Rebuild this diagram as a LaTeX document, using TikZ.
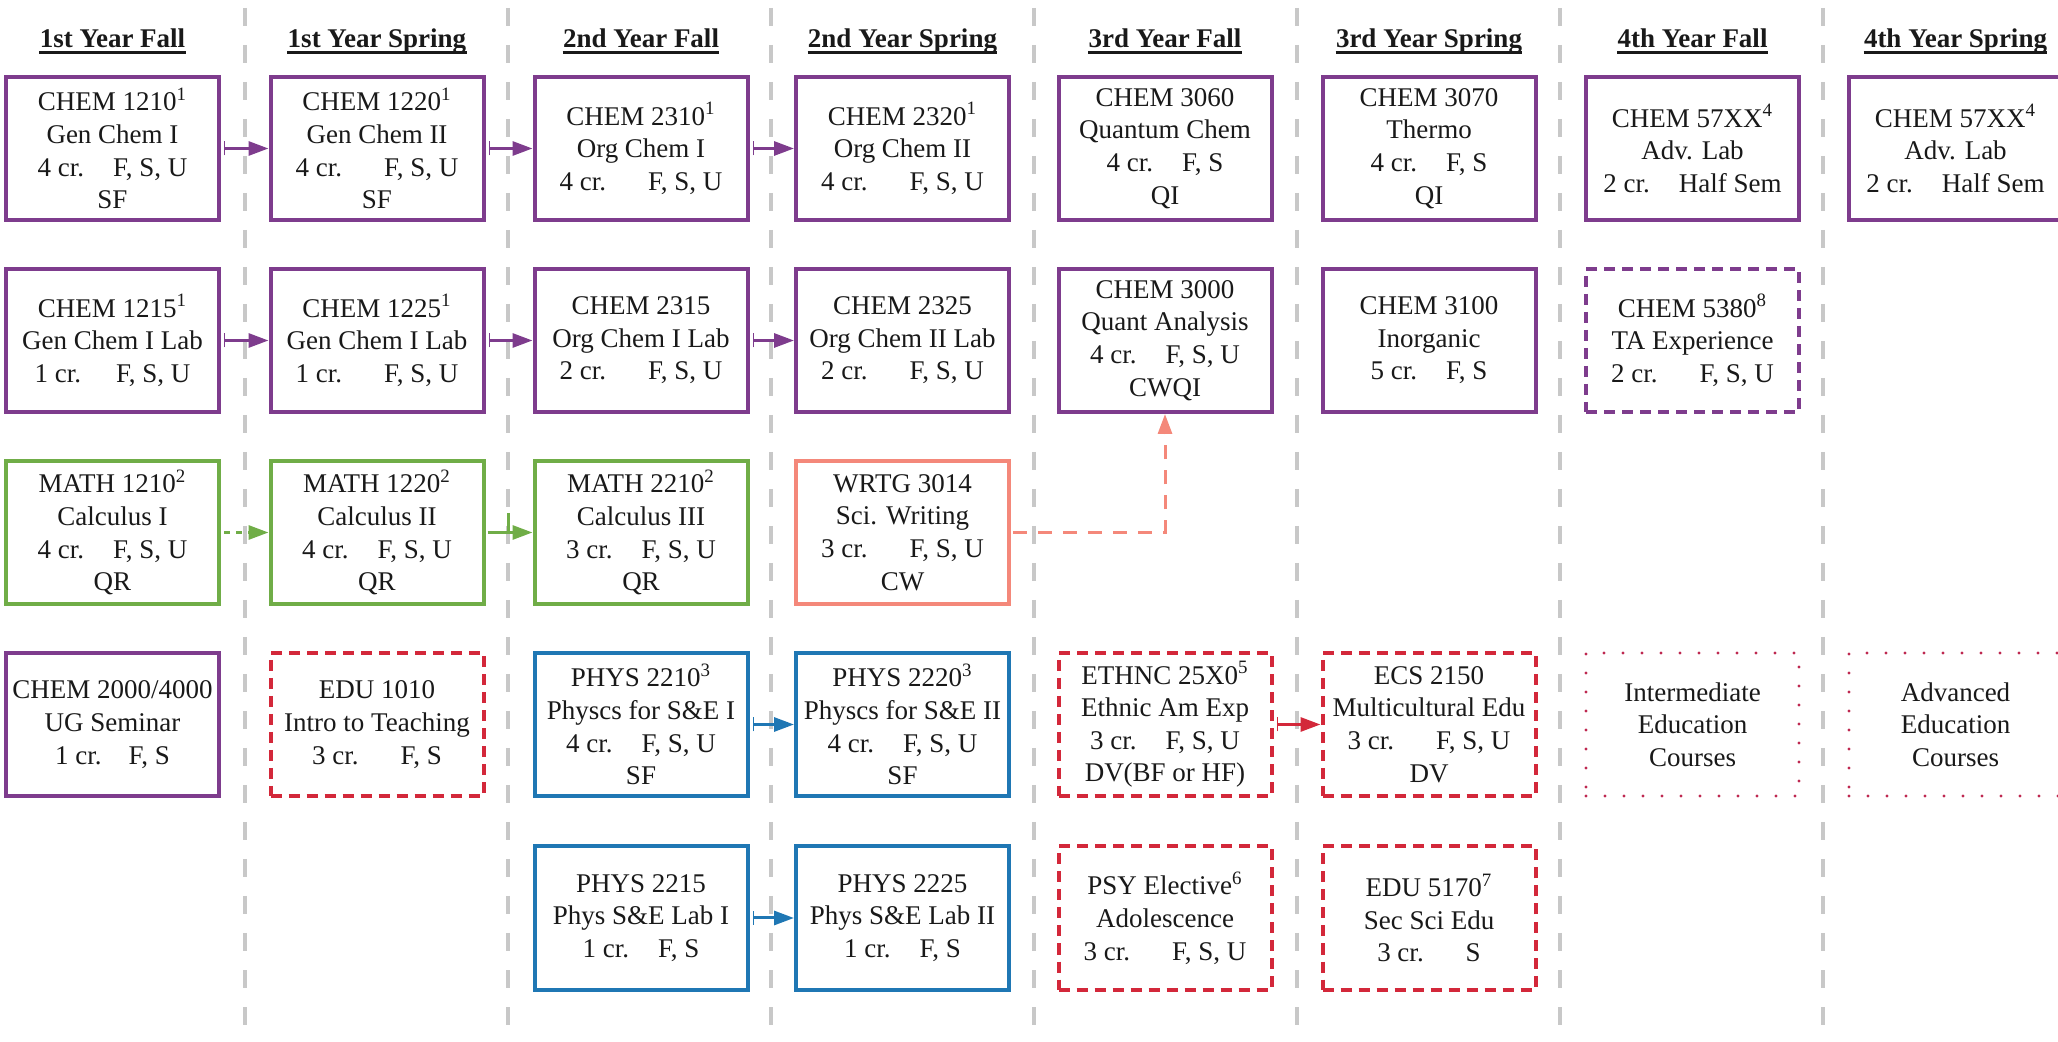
\documentclass[tikz,border=0pt]{standalone}
\usepackage{fontspec}
\setmainfont{Liberation Serif}
\usetikzlibrary{arrows.meta}
\definecolor{cpur}{RGB}{126,60,141}
\definecolor{cgrn}{RGB}{112,173,71}
\definecolor{csal}{RGB}{244,136,122}
\definecolor{cblu}{RGB}{31,119,180}
\definecolor{cred}{RGB}{211,40,58}
\definecolor{cdot}{RGB}{190,40,80}
\definecolor{csep}{RGB}{200,200,200}
\newcommand\gapA{\hspace{14.5pt}}
\newcommand\gapB{\hspace{21pt}}
\begin{document}
\begin{tikzpicture}[x=0.5pt,y=-0.5pt,
  font=\fontsize{13.5}{16.3}\selectfont,
  course/.style={draw, line width=2pt, minimum width=106.5pt, minimum height=71.5pt,
    inner sep=0pt, align=center, fill=white, text=black!90},
  pur/.style={course, draw=cpur},
  purd/.style={course, draw=cpur, dash pattern=on 5.5pt off 3.5pt},
  grn/.style={course, draw=cgrn},
  sal/.style={course, draw=csal},
  blu/.style={course, draw=cblu},
  redd/.style={course, draw=cred, dash pattern=on 5.5pt off 3.5pt},
  dotb/.style={course, draw=cdot, line width=1.7pt, dash pattern=on 0pt off 9.5pt, line cap=round},
  hdr/.style={anchor=base, inner sep=0pt, font=\fontsize{13.5}{16.3}\selectfont\bfseries, text=black!90},
  hline/.style={line width=1.2pt, black!90},
  sepline/.style={draw=csep, line width=2pt, dash pattern=on 9pt off 9.5pt},
  conn/.style={line width=1.5pt, {Bar[width=7pt,line width=0.45pt]}-{Triangle[length=10pt,width=7pt]}},
  plainconn/.style={line width=1.5pt, -{Triangle[length=10pt,width=7pt]}},
]
\useasboundingbox (0,0) rectangle (2058,1042);
\clip (0,0) rectangle (2058,1042);

% separators
\foreach \sx in {245,508,771,1034,1297,1560,1823}
  \draw[sepline] (\sx,8) -- (\sx,1042);

% headers
\foreach \hx/\htxt/\hn in {112.5/1st Year Fall/h1, 377/1st Year Spring/h2, 641/2nd Year Fall/h3,
    902.5/2nd Year Spring/h4, 1165/3rd Year Fall/h5, 1429/3rd Year Spring/h6,
    1692.5/4th Year Fall/h7, 1955.5/4th Year Spring/h8}{
  \node[hdr] (\hn) at (\hx,48) {\htxt};
  \draw[hline] ([yshift=-2.2pt]\hn.base west) -- ([yshift=-2.2pt]\hn.base east);
}

% row 1
\node[pur] (r1c1) at (112.5,148.5) {CHEM 1210\textsuperscript{1}\\Gen Chem I\\4 cr.\gapA F, S, U\\SF};
\node[pur] (r1c2) at (377,148.5) {CHEM 1220\textsuperscript{1}\\Gen Chem II\\4 cr.\gapB F, S, U\\SF};
\node[pur] (r1c3) at (641,148.5) {CHEM 2310\textsuperscript{1}\\Org Chem I\\4 cr.\gapB F, S, U};
\node[pur] (r1c4) at (902.5,148.5) {CHEM 2320\textsuperscript{1}\\Org Chem II\\4 cr.\gapB F, S, U};
\node[pur] (r1c5) at (1165,148.5) {CHEM 3060\\Quantum Chem\\4 cr.\gapA F, S\\QI};
\node[pur] (r1c6) at (1429,148.5) {CHEM 3070\\Thermo\\4 cr.\gapA F, S\\QI};
\node[pur] (r1c7) at (1692.5,148.5) {CHEM 57XX\textsuperscript{4}\\Adv. Lab\\2 cr.\gapA Half Sem};
\node[pur] (r1c8) at (1955.5,148.5) {CHEM 57XX\textsuperscript{4}\\Adv. Lab\\2 cr.\gapA Half Sem};

% row 2
\node[pur] (r2c1) at (112.5,340.5) {CHEM 1215\textsuperscript{1}\\Gen Chem I Lab\\1 cr.\hspace{17.5pt}F, S, U};
\node[pur] (r2c2) at (377,340.5) {CHEM 1225\textsuperscript{1}\\Gen Chem I Lab\\1 cr.\gapB F, S, U};
\node[pur] (r2c3) at (641,340.5) {CHEM 2315\\Org Chem I Lab\\2 cr.\gapB F, S, U};
\node[pur] (r2c4) at (902.5,340.5) {CHEM 2325\\Org Chem II Lab\\2 cr.\gapB F, S, U};
\node[pur] (r2c5) at (1165,340.5) {CHEM 3000\\Quant Analysis\\4 cr.\gapA F, S, U\\CWQI};
\node[pur] (r2c6) at (1429,340.5) {CHEM 3100\\Inorganic\\5 cr.\gapA F, S};
\node[purd] (r2c7) at (1692.5,340.5) {CHEM 5380\textsuperscript{8}\\TA Experience\\2 cr.\gapB F, S, U};

% row 3
\node[grn] (r3c1) at (112.5,532.5) {MATH 1210\textsuperscript{2}\\Calculus I\\4 cr.\gapA F, S, U\\QR};
\node[grn] (r3c2) at (377,532.5) {MATH 1220\textsuperscript{2}\\Calculus II\\4 cr.\gapA F, S, U\\QR};
\node[grn] (r3c3) at (641,532.5) {MATH 2210\textsuperscript{2}\\Calculus III\\3 cr.\gapA F, S, U\\QR};
\node[sal] (r3c4) at (902.5,532.5) {WRTG 3014\\Sci. Writing\\3 cr.\gapB F, S, U\\CW};

% row 4
\node[pur] (r4c1) at (112.5,724.5) {CHEM 2000/4000\\UG Seminar\\1 cr.\hspace{13.5pt}F, S};
\node[redd] (r4c2) at (377,724.5) {EDU 1010\\Intro to Teaching\\3 cr.\gapB F, S};
\node[blu] (r4c3) at (641,724.5) {PHYS 2210\textsuperscript{3}\\Physcs for S\&E I\\4 cr.\gapA F, S, U\\SF};
\node[blu] (r4c4) at (902.5,724.5) {PHYS 2220\textsuperscript{3}\\Physcs for S\&E II\\4 cr.\gapA F, S, U\\SF};
\node[redd] (r4c5) at (1165,724.5) {ETHNC 25X0\textsuperscript{5}\\Ethnic Am Exp\\3 cr.\gapA F, S, U\\DV(BF or HF)};
\node[redd] (r4c6) at (1429,724.5) {ECS 2150\\Multicultural Edu\\3 cr.\gapB F, S, U\\DV};
\node[dotb] (r4c7) at (1692.5,724.5) {Intermediate\\Education\\Courses};
\node[dotb] (r4c8) at (1955.5,724.5) {Advanced\\Education\\Courses};

% row 5
\node[blu] (r5c3) at (641,918) {PHYS 2215\\Phys S\&E Lab I\\1 cr.\gapA F, S};
\node[blu] (r5c4) at (902.5,918) {PHYS 2225\\Phys S\&E Lab II\\1 cr.\gapA F, S};
\node[redd] (r5c5) at (1165,918) {PSY Elective\textsuperscript{6}\\Adolescence\\3 cr.\gapB F, S, U};
\node[redd] (r5c6) at (1429,918) {EDU 5170\textsuperscript{7}\\Sec Sci Edu\\3 cr.\gapB S};

% connectors
\foreach \a/\b in {r1c1/r1c2, r1c2/r1c3, r1c3/r1c4, r2c1/r2c2, r2c2/r2c3, r2c3/r2c4}
  \draw[conn, color=cpur] ([xshift=1.5pt]\a.east) -- (\b.west);
\draw[plainconn, color=cgrn, dash pattern=on 3pt off 3pt] ([xshift=1.5pt]r3c1.east) -- (r3c2.west);
\draw[plainconn, color=cgrn] ([xshift=1pt]r3c2.east) -- (r3c3.west);
\draw[color=cgrn, line width=1.5pt] (508,513) -- (508,532.5);
\draw[plainconn, color=csal, dash pattern=on 7pt off 5.5pt] ([xshift=1pt]r3c4.east) -| (r2c5.south);
\draw[conn, color=cblu] ([xshift=1.5pt]r4c3.east) -- (r4c4.west);
\draw[conn, color=cblu] ([xshift=1.5pt]r5c3.east) -- (r5c4.west);
\draw[conn, color=cred] ([xshift=1.5pt]r4c5.east) -- (r4c6.west);
\end{tikzpicture}
\end{document}
